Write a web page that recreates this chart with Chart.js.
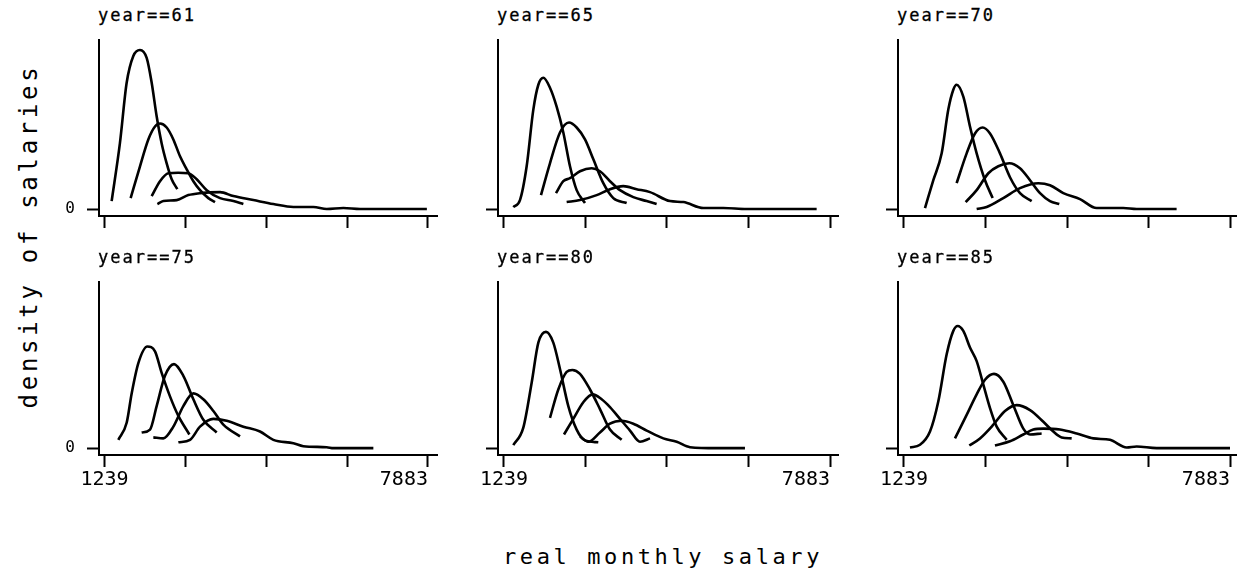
<!DOCTYPE html>
<html>
<head>
<meta charset="utf-8">
<script src="https://cdn.jsdelivr.net/npm/chart.js@4.4.1/dist/chart.umd.min.js"></script>
<style>
  html, body { margin: 0; padding: 0; background: #fff; }
  body { width: 1237px; height: 578px; position: relative; overflow: hidden; font-family: "DejaVu Sans Mono", monospace; color: #000; }
  canvas { position: absolute; }
  .ptitle { position: absolute; font-size: 17px; line-height: 17px; letter-spacing: 2px; white-space: nowrap; -webkit-text-stroke: 0.3px #000; }
  #ytitle { position: absolute; left: 29px; top: 236px; font-size: 24px; line-height: 24px; letter-spacing: 3.7px; white-space: nowrap; transform: translate(-50%, -50%) rotate(-90deg); }
  #xtitle { position: absolute; left: 461px; width: 404px; top: 546px; text-align: center; font-size: 22px; line-height: 22px; letter-spacing: 3.6px; white-space: nowrap; }
</style>
</head>
<body>
<div id="ytitle">density of salaries</div>
<div id="xtitle">real monthly salary</div>
<script>
// ---- data: [real monthly salary, density] ----
const years = ['61', '65', '70', '75', '80', '85'];
const xTicks = [1239, 2900, 4561, 6222, 7883];
const xTickLabels = ['1239', '', '', '', '7883'];
const yTicks = [0];
const yTickLabels = ['0'];

const y61_c1 = [[1386,0.08],[1555,0.66],[1694,1.27],[1831,1.54],[1968,1.60],[2105,1.52],[2208,1.27],[2311,0.93],[2413,0.66],[2516,0.46],[2619,0.30],[2735,0.20]];
const y61_c2 = [[1776,0.11],[1968,0.43],[2139,0.70],[2276,0.83],[2379,0.86],[2516,0.82],[2653,0.70],[2790,0.53],[2927,0.40],[3064,0.28],[3201,0.19],[3372,0.11],[3509,0.07]];
const y61_c3 = [[2208,0.13],[2379,0.28],[2550,0.36],[2750,0.365],[2961,0.36],[3132,0.30],[3338,0.19],[3612,0.11],[3886,0.08],[4091,0.05]];
const y61_c4 = [[2325,0.05],[2448,0.08],[2722,0.09],[2961,0.14],[3201,0.16],[3612,0.17],[3886,0.13],[4296,0.09],[4707,0.05],[5118,0.02],[5529,0.02],[5803,0.0],[6145,0.01],[6488,0.0],[7172,0.0],[7860,0.0]];

const y65_c1 = [[1429,0.02],[1565,0.09],[1701,0.43],[1837,1.0],[1939,1.25],[2041,1.32],[2176,1.22],[2312,1.03],[2448,0.77],[2584,0.43],[2720,0.19],[2890,0.06]];
const y65_c2 = [[1993,0.14],[2176,0.46],[2380,0.77],[2564,0.87],[2720,0.82],[2890,0.70],[3060,0.50],[3263,0.26],[3467,0.11],[3739,0.06]];
const y65_c3 = [[2299,0.16],[2448,0.28],[2584,0.31],[2788,0.38],[3026,0.41],[3195,0.38],[3399,0.28],[3603,0.19],[3875,0.12],[4146,0.08],[4350,0.05]];
const y65_c4 = [[2516,0.07],[2788,0.09],[3128,0.14],[3399,0.20],[3671,0.23],[3943,0.20],[4215,0.17],[4622,0.08],[4894,0.07],[5301,0.01],[5709,0.01],[6184,0.0],[6660,0.0],[7611,0.0]];

const y70_c1 = [[1667,0.01],[1837,0.29],[2007,0.56],[2142,1.0],[2244,1.2],[2312,1.25],[2448,1.13],[2584,0.83],[2720,0.56],[2890,0.29],[3046,0.11]];
const y70_c2 = [[2312,0.26],[2516,0.56],[2686,0.76],[2842,0.82],[2992,0.76],[3195,0.56],[3399,0.32],[3603,0.16],[3841,0.08]];
const y70_c3 = [[2496,0.07],[2720,0.19],[2958,0.36],[3161,0.43],[3386,0.46],[3603,0.41],[3807,0.29],[4011,0.16],[4214,0.08],[4404,0.05]];
const y70_c4 = [[2720,0.0],[2924,0.02],[3263,0.11],[3603,0.21],[3977,0.26],[4214,0.24],[4486,0.16],[4826,0.10],[5165,0.01],[5709,0.01],[5980,0.0],[6320,0.0],[6795,0.0]];

const y75_c1 = [[1523,0.085],[1694,0.26],[1797,0.56],[1934,0.87],[2119,1.04],[2276,0.99],[2413,0.77],[2584,0.53],[2756,0.33],[2982,0.14]];
const y75_c2 = [[2002,0.16],[2174,0.19],[2310,0.43],[2481,0.74],[2666,0.86],[2858,0.74],[3064,0.50],[3269,0.29],[3543,0.16]];
const y75_c3 = [[2242,0.11],[2447,0.10],[2653,0.22],[2858,0.43],[3064,0.56],[3269,0.50],[3475,0.38],[3680,0.24],[4022,0.12]];
const y75_c4 = [[2756,0.06],[2995,0.085],[3201,0.22],[3475,0.30],[3749,0.28],[4091,0.22],[4433,0.17],[4707,0.085],[5118,0.05],[5323,0.02],[5803,0.01],[5940,0.0],[6761,0.0]];

const y80_c1 = [[1429,0.03],[1633,0.21],[1803,0.67],[1939,1.08],[2095,1.19],[2244,1.08],[2380,0.81],[2550,0.43],[2720,0.19],[2890,0.08],[3161,0.06]];
const y80_c2 = [[2176,0.31],[2346,0.60],[2516,0.78],[2632,0.80],[2788,0.76],[2992,0.60],[3195,0.40],[3399,0.19],[3637,0.085]];
const y80_c3 = [[2462,0.14],[2652,0.30],[2856,0.47],[3046,0.55],[3229,0.50],[3399,0.42],[3603,0.30],[3807,0.18],[4011,0.065],[4215,0.10]];
const y80_c4 = [[2788,0.12],[2958,0.065],[3195,0.16],[3399,0.25],[3637,0.28],[3875,0.25],[4147,0.18],[4486,0.10],[4758,0.065],[5030,0.01],[5573,0.0],[6150,0.0]];

const y85_c1 = [[1361,0.007],[1565,0.034],[1769,0.17],[1939,0.48],[2109,0.96],[2244,1.2],[2333,1.25],[2448,1.2],[2584,1.03],[2720,0.89],[2856,0.65],[2992,0.41],[3128,0.22],[3331,0.085]];
const y85_c2 = [[2278,0.10],[2516,0.34],[2720,0.55],[2890,0.70],[3073,0.76],[3263,0.68],[3467,0.44],[3671,0.20],[3807,0.14],[4044,0.15]];
const y85_c3 = [[2570,0.027],[2788,0.10],[3060,0.24],[3297,0.38],[3535,0.44],[3807,0.39],[4079,0.27],[4282,0.17],[4452,0.11],[4656,0.10]];
const y85_c4 = [[3093,0.027],[3399,0.07],[3671,0.14],[3875,0.19],[4079,0.20],[4418,0.19],[4758,0.15],[5097,0.10],[5437,0.085],[5777,0.007],[5980,0.017],[6388,0.0],[7339,0.0],[7883,0.0]];

const panelCurves = {
  '61': [y61_c1, y61_c2, y61_c3, y61_c4],
  '65': [y65_c1, y65_c2, y65_c3, y65_c4],
  '70': [y70_c1, y70_c2, y70_c3, y70_c4],
  '75': [y75_c1, y75_c2, y75_c3, y75_c4],
  '80': [y80_c1, y80_c2, y80_c3, y80_c4],
  '85': [y85_c1, y85_c2, y85_c3, y85_c4]
};

// ---- layout (plot-area pixel boxes) ----
const colBox = [
  { left: 99,  right: 437,  xmin: 1126, xmax: 8068, padR: 4 },
  { left: 498, right: 838,  xmin: 1117, xmax: 8046, padR: 4 },
  { left: 898, right: 1236, xmin: 1117, xmax: 8005, padR: 1 }
];
const rowBox = [
  { top: 40,  bottom: 216, titleTop: 7 },
  { top: 282, bottom: 455, titleTop: 249 }
];
const YW = 50, XH = 40, PT = 4;

years.forEach((yr, i) => {
  const c = i % 3, r = Math.floor(i / 3);
  const cb = colBox[c], rb = rowBox[r];

  const t = document.createElement('div');
  t.className = 'ptitle';
  t.textContent = 'year==' + yr;
  t.style.left = (cb.left - 1) + 'px';
  t.style.top = rb.titleTop + 'px';
  document.body.appendChild(t);

  const cv = document.createElement('canvas');
  const w = YW + (cb.right - cb.left) + cb.padR;
  const h = PT + (rb.bottom - rb.top) + XH;
  cv.width = w; cv.height = h;
  cv.style.left = (cb.left - YW) + 'px';
  cv.style.top = (rb.top - PT) + 'px';
  cv.style.width = w + 'px'; cv.style.height = h + 'px';
  document.body.appendChild(cv);

  new Chart(cv, {
    type: 'line',
    data: {
      datasets: panelCurves[yr].map((d, k) => ({
        label: 'curve ' + (k + 1),
        data: d,
        borderColor: '#000',
        borderWidth: 2.6,
        pointRadius: 0,
        fill: false,
        cubicInterpolationMode: 'monotone'
      }))
    },
    options: {
      responsive: false,
      animation: false,
      devicePixelRatio: 1,
      layout: { padding: { top: PT, right: cb.padR, left: 0, bottom: 0 } },
      plugins: { legend: { display: false }, tooltip: { enabled: false }, title: { display: false } },
      scales: {
        x: {
          type: 'linear',
          min: cb.xmin, max: cb.xmax,
          afterBuildTicks: s => { s.ticks = xTicks.map(v => ({ value: v })); },
          afterFit: s => { s.height = XH; s.paddingLeft = 0; s.paddingRight = 0; },
          border: { display: true, color: '#000', width: 2 },
          grid: { drawOnChartArea: false, drawTicks: true, tickLength: 12, tickColor: '#000', tickWidth: 2 },
          ticks: {
            autoSkip: false, maxRotation: 0, minRotation: 0, padding: 1,
            color: '#000',
            font: { family: 'DejaVu Sans Mono', size: 20 },
            callback: (v, idx) => {
              if (r !== 1) return '';
              const lab = xTickLabels[idx] || '';
              return idx === xTicks.length - 1 ? lab + '    ' : lab;
            }
          }
        },
        y: {
          type: 'linear',
          min: -0.07, max: 1.70,
          afterBuildTicks: s => { s.ticks = yTicks.map(v => ({ value: v })); },
          afterFit: s => { s.width = YW; s.paddingTop = 0; s.paddingBottom = 0; },
          border: { display: true, color: '#000', width: 2 },
          grid: { drawOnChartArea: false, drawTicks: true, tickLength: 12, tickColor: '#000', tickWidth: 2 },
          ticks: {
            autoSkip: false, padding: 12, color: '#000',
            font: { family: 'DejaVu Sans Mono', size: 16 },
            callback: (v, idx) => (c === 0 ? yTickLabels[idx] : '')
          }
        }
      }
    }
  });
});
</script>
</body>
</html>
